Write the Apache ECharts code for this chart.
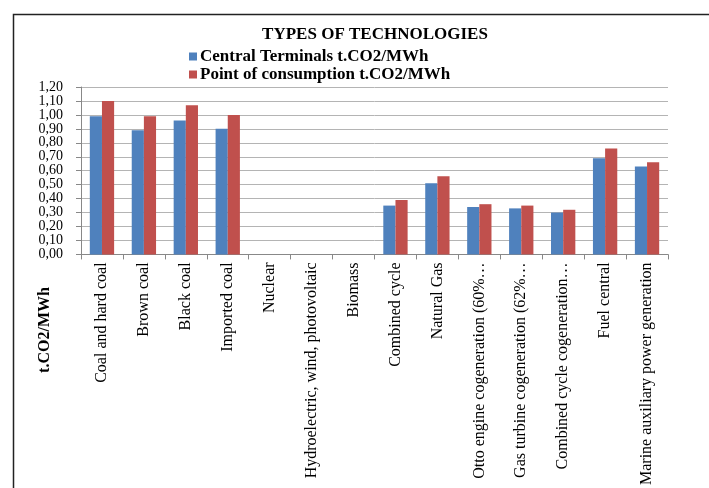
<!DOCTYPE html>
<html>
<head>
<meta charset="utf-8">
<script src="https://cdn.jsdelivr.net/npm/echarts@6/dist/echarts.min.js"></script>
<style>
html,body{margin:0;padding:0;background:#fff;}
#chart{width:709px;height:488px;}
</style>
</head>
<body>
<div id="chart"></div>
<script>
var categories = [
  "Coal and hard coal",
  "Brown coal",
  "Black coal",
  "Imported coal",
  "Nuclear",
  "Hydroelectric, wind, photovoltaic",
  "Biomass",
  "Combined cycle",
  "Natural Gas",
  "Otto engine cogeneration (60%…",
  "Gas turbine cogeneration (62%…",
  "Combined cycle cogeneration…",
  "Fuel central",
  "Marine auxiliary power generation"
];
var centralTerminals = [0.99, 0.89, 0.96, 0.90, 0, 0, 0, 0.35, 0.51, 0.34, 0.33, 0.30, 0.69, 0.63];
var pointOfConsumption = [1.10, 0.99, 1.07, 1.00, 0, 0, 0, 0.39, 0.56, 0.36, 0.35, 0.32, 0.76, 0.66];
var seriesNames = ["Central Terminals t.CO2/MWh", "Point of consumption t.CO2/MWh"];
var titleText = "TYPES OF TECHNOLOGIES";
var yAxisTitle = "t.CO2/MWh";

var serif = "'Liberation Serif', 'Times New Roman', serif";
var chart = echarts.init(document.getElementById('chart'));
chart.setOption({
  backgroundColor: '#ffffff',
  animation: false,
  title: {
    text: titleText,
    left: 370, top: 21, textAlign: 'center',
    textStyle: { fontFamily: serif, fontWeight: 'bold', fontSize: 17, color: '#000' }
  },
  legend: {
    orient: 'vertical',
    left: 184, top: 43,
    itemWidth: 8, itemHeight: 8, itemGap: 1,
    icon: 'rect',
    data: seriesNames,
    textStyle: { fontFamily: serif, fontWeight: 'bold', fontSize: 17, color: '#000', padding: [0,0,0,-2] }
  },
  grid: { left: 81, right: 41, top: 87, bottom: 224, containLabel: false },
  xAxis: {
    type: 'category',
    data: categories,
    boundaryGap: true,
    axisLine: { lineStyle: { color: '#888', width: 1 } },
    axisTick: { show: true, length: 5, lineStyle: { color: '#888' }, alignWithLabel: false },
    axisLabel: {
      rotate: 90, interval: 0, margin: 8,
      fontFamily: serif, fontSize: 16, color: '#000'
    }
  },
  yAxis: {
    type: 'value',
    min: 0, max: 1.2, interval: 0.1,
    axisLine: { show: true, lineStyle: { color: '#888', width: 1 } },
    axisTick: { show: true, length: 5, lineStyle: { color: '#888' } },
    splitLine: { lineStyle: { color: '#b4b4b4', width: 1 } },
    axisLabel: {
      margin: 18, showMinLabel: true, showMaxLabel: true, hideOverlap: false,
      textMargin: [0, 0, 0, 0],
      fontFamily: serif, fontSize: 14, color: '#000',
      formatter: function (v) { return v.toFixed(2).replace('.', ','); }
    }
  },
  series: [
    { name: seriesNames[0], type: 'bar', data: centralTerminals, barWidth: '29%', barGap: '0%',
      itemStyle: { color: '#4F81BD' } },
    { name: seriesNames[1], type: 'bar', data: pointOfConsumption, barWidth: '29%', barGap: '0%',
      itemStyle: { color: '#C0504D' } }
  ],
  graphic: [
    { type: 'rect', left: 11, top: 12, shape: { width: 740, height: 520 }, silent: true,
      style: { fill: 'none', stroke: '#222', lineWidth: 1.5 } },
    { type: 'text', x: 45, y: 330, rotation: Math.PI / 2,
      style: { text: yAxisTitle, fontFamily: serif, fontWeight: 'bold', fontSize: 16, fill: '#000',
               align: 'center', verticalAlign: 'middle' } }
  ]
});
</script>
</body>
</html>
